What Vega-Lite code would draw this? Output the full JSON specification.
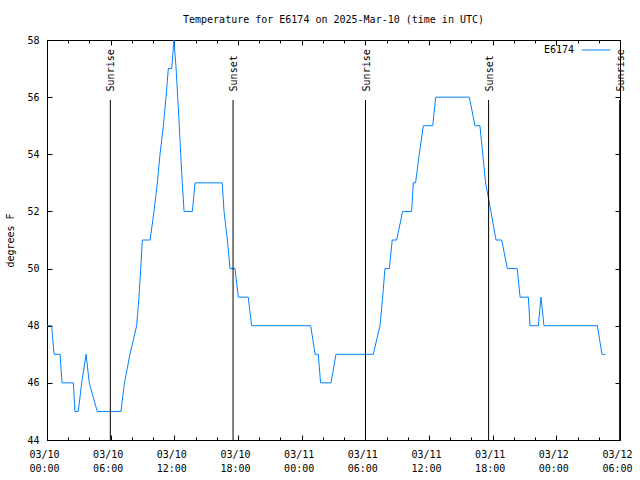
{
  "$schema": "https://vega.github.io/schema/vega-lite/v6.json",
  "width": 573,
  "height": 400,
  "autosize": {"type": "none"},
  "padding": {"left": 47, "top": 40, "right": 20, "bottom": 40},
  "background": "white",
  "title": {"text": "Temperature for E6174 on 2025-Mar-10 (time in UTC)", "anchor": "middle", "font": "DejaVu Sans Mono", "fontSize": 10, "fontWeight": "normal", "color": "black", "offset": 10},
  "config": {
    "font": "DejaVu Sans Mono",
    "view": {"stroke": "black", "strokeWidth": 1},
    "axis": {"domain": false, "grid": false, "tickColor": "black", "tickWidth": 1, "labelColor": "black", "labelFont": "DejaVu Sans Mono", "labelFontSize": 10, "titleFont": "DejaVu Sans Mono", "titleFontSize": 10, "titleFontWeight": "normal", "titleColor": "black"}
  },
  "datasets": {
    "temp": [
      {"time": "2025-03-10T00:00:00Z", "temp": 48},
      {"time": "2025-03-10T00:26:00Z", "temp": 48},
      {"time": "2025-03-10T00:40:00Z", "temp": 47},
      {"time": "2025-03-10T01:14:00Z", "temp": 47},
      {"time": "2025-03-10T01:25:00Z", "temp": 46},
      {"time": "2025-03-10T02:29:00Z", "temp": 46},
      {"time": "2025-03-10T02:38:00Z", "temp": 45},
      {"time": "2025-03-10T02:57:00Z", "temp": 45},
      {"time": "2025-03-10T03:16:00Z", "temp": 46},
      {"time": "2025-03-10T03:41:00Z", "temp": 47},
      {"time": "2025-03-10T03:59:00Z", "temp": 46},
      {"time": "2025-03-10T04:44:00Z", "temp": 45},
      {"time": "2025-03-10T06:58:00Z", "temp": 45},
      {"time": "2025-03-10T07:18:00Z", "temp": 46},
      {"time": "2025-03-10T07:49:00Z", "temp": 47},
      {"time": "2025-03-10T08:27:00Z", "temp": 48},
      {"time": "2025-03-10T08:40:00Z", "temp": 49},
      {"time": "2025-03-10T08:50:00Z", "temp": 50},
      {"time": "2025-03-10T08:59:00Z", "temp": 51},
      {"time": "2025-03-10T09:43:00Z", "temp": 51},
      {"time": "2025-03-10T10:05:00Z", "temp": 52},
      {"time": "2025-03-10T10:24:00Z", "temp": 53},
      {"time": "2025-03-10T10:39:00Z", "temp": 54},
      {"time": "2025-03-10T10:58:00Z", "temp": 55},
      {"time": "2025-03-10T11:13:00Z", "temp": 56},
      {"time": "2025-03-10T11:26:00Z", "temp": 57},
      {"time": "2025-03-10T11:45:00Z", "temp": 57},
      {"time": "2025-03-10T11:58:00Z", "temp": 58},
      {"time": "2025-03-10T12:10:00Z", "temp": 57},
      {"time": "2025-03-10T12:19:00Z", "temp": 56},
      {"time": "2025-03-10T12:28:00Z", "temp": 55},
      {"time": "2025-03-10T12:36:00Z", "temp": 54},
      {"time": "2025-03-10T12:45:00Z", "temp": 53},
      {"time": "2025-03-10T12:55:00Z", "temp": 52},
      {"time": "2025-03-10T13:42:00Z", "temp": 52},
      {"time": "2025-03-10T13:57:00Z", "temp": 53},
      {"time": "2025-03-10T16:31:00Z", "temp": 53},
      {"time": "2025-03-10T16:41:00Z", "temp": 52},
      {"time": "2025-03-10T17:00:00Z", "temp": 51},
      {"time": "2025-03-10T17:15:00Z", "temp": 50},
      {"time": "2025-03-10T17:43:00Z", "temp": 50},
      {"time": "2025-03-10T18:02:00Z", "temp": 49},
      {"time": "2025-03-10T18:58:00Z", "temp": 49},
      {"time": "2025-03-10T19:17:00Z", "temp": 48},
      {"time": "2025-03-11T00:51:00Z", "temp": 48},
      {"time": "2025-03-11T01:16:00Z", "temp": 47},
      {"time": "2025-03-11T01:34:00Z", "temp": 47},
      {"time": "2025-03-11T01:47:00Z", "temp": 46},
      {"time": "2025-03-11T02:46:00Z", "temp": 46},
      {"time": "2025-03-11T03:14:00Z", "temp": 47},
      {"time": "2025-03-11T06:45:00Z", "temp": 47},
      {"time": "2025-03-11T07:23:00Z", "temp": 48},
      {"time": "2025-03-11T07:38:00Z", "temp": 49},
      {"time": "2025-03-11T07:51:00Z", "temp": 50},
      {"time": "2025-03-11T08:16:00Z", "temp": 50},
      {"time": "2025-03-11T08:32:00Z", "temp": 51},
      {"time": "2025-03-11T08:57:00Z", "temp": 51},
      {"time": "2025-03-11T09:31:00Z", "temp": 52},
      {"time": "2025-03-11T10:22:00Z", "temp": 52},
      {"time": "2025-03-11T10:31:00Z", "temp": 53},
      {"time": "2025-03-11T10:44:00Z", "temp": 53},
      {"time": "2025-03-11T11:05:00Z", "temp": 54},
      {"time": "2025-03-11T11:28:00Z", "temp": 55},
      {"time": "2025-03-11T12:21:00Z", "temp": 55},
      {"time": "2025-03-11T12:38:00Z", "temp": 56},
      {"time": "2025-03-11T15:48:00Z", "temp": 56},
      {"time": "2025-03-11T16:20:00Z", "temp": 55},
      {"time": "2025-03-11T16:48:00Z", "temp": 55},
      {"time": "2025-03-11T17:04:00Z", "temp": 54},
      {"time": "2025-03-11T17:20:00Z", "temp": 53},
      {"time": "2025-03-11T17:50:00Z", "temp": 52},
      {"time": "2025-03-11T18:19:00Z", "temp": 51},
      {"time": "2025-03-11T18:51:00Z", "temp": 51},
      {"time": "2025-03-11T19:23:00Z", "temp": 50},
      {"time": "2025-03-11T20:19:00Z", "temp": 50},
      {"time": "2025-03-11T20:35:00Z", "temp": 49},
      {"time": "2025-03-11T21:22:00Z", "temp": 49},
      {"time": "2025-03-11T21:31:00Z", "temp": 48},
      {"time": "2025-03-11T22:18:00Z", "temp": 48},
      {"time": "2025-03-11T22:33:00Z", "temp": 49},
      {"time": "2025-03-11T22:50:00Z", "temp": 48},
      {"time": "2025-03-12T03:52:00Z", "temp": 48},
      {"time": "2025-03-12T04:18:00Z", "temp": 47},
      {"time": "2025-03-12T04:37:00Z", "temp": 47}
    ],
    "sun": [
      {"time": "2025-03-10T05:58:00Z", "event": "Sunrise"},
      {"time": "2025-03-10T17:32:00Z", "event": "Sunset"},
      {"time": "2025-03-11T06:01:00Z", "event": "Sunrise"},
      {"time": "2025-03-11T17:37:00Z", "event": "Sunset"},
      {"time": "2025-03-12T05:58:00Z", "event": "Sunrise"}
    ]
  },
  "layer": [
    {
      "data": {"name": "temp"},
      "mark": {"type": "line", "strokeWidth": 1},
      "encoding": {
        "x": {
          "field": "time", "type": "temporal",
          "scale": {"type": "utc", "domain": [1741564800000, 1741759200000], "nice": false},
          "axis": {
            "orient": "bottom", "title": null,
            "values": [1741564800000, 1741586400000, 1741608000000, 1741629600000, 1741651200000, 1741672800000, 1741694400000, 1741716000000, 1741737600000, 1741759200000],
            "tickSize": -5,
            "labelExpr": "[utcFormat(datum.value, '%m/%d'), utcFormat(datum.value, '%H:%M')]",
            "labelPadding": 14, "labelOffset": -3, "labelLineHeight": 14, "labelFlush": false, "labelOverlap": false
          }
        },
        "y": {
          "field": "temp", "type": "quantitative",
          "scale": {"domain": [44, 58], "nice": false, "zero": false},
          "axis": {"orient": "left", "title": "degrees F", "values": [44, 46, 48, 50, 52, 54, 56, 58], "tickSize": -5, "labelPadding": 13, "titlePadding": 11}
        },
        "color": {
          "datum": "E6174",
          "scale": {"range": ["#0080ff"]},
          "legend": {"orient": "none", "legendX": 534, "legendY": -5, "title": null, "padding": 0, "symbolType": "stroke", "symbolSize": 841, "symbolStrokeWidth": 1, "labelAlign": "right", "labelOffset": -37, "labelFont": "DejaVu Sans Mono", "labelFontSize": 10, "labelColor": "black"}
        }
      }
    },
    {
      "data": {"name": "sun"},
      "mark": {"type": "rule", "color": "black", "strokeWidth": 1},
      "encoding": {
        "x": {
          "field": "time", "type": "temporal",
          "axis": {"orient": "top", "title": null, "labels": false,
            "values": [1741564800000, 1741586400000, 1741608000000, 1741629600000, 1741651200000, 1741672800000, 1741694400000, 1741716000000, 1741737600000, 1741759200000],
            "tickSize": -5}
        },
        "y": {
          "datum": 44, "type": "quantitative",
          "axis": {"orient": "right", "title": null, "labels": false, "values": [44, 46, 48, 50, 52, 54, 56, 58], "tickSize": -5}
        },
        "y2": {"datum": 55.9}
      }
    },
    {
      "data": {"name": "sun"},
      "mark": {"type": "text", "angle": 270, "align": "left", "baseline": "middle", "font": "DejaVu Sans Mono", "fontSize": 10, "color": "black", "dy": 1},
      "encoding": {
        "x": {"field": "time", "type": "temporal", "axis": {"orient": "bottom", "title": null, "labels": false, "tickSize": -3,
          "values": [1741564800000, 1741572000000, 1741579200000, 1741586400000, 1741593600000, 1741600800000, 1741608000000, 1741615200000, 1741622400000, 1741629600000, 1741636800000, 1741644000000, 1741651200000, 1741658400000, 1741665600000, 1741672800000, 1741680000000, 1741687200000, 1741694400000, 1741701600000, 1741708800000, 1741716000000, 1741723200000, 1741730400000, 1741737600000, 1741744800000, 1741752000000, 1741759200000]}},
        "y": {"datum": 56.2, "type": "quantitative", "axis": null},
        "text": {"field": "event"}
      }
    },
    {
      "data": {"name": "sun"},
      "mark": {"type": "rule", "strokeOpacity": 0},
      "encoding": {
        "x": {"field": "time", "type": "temporal", "axis": {"orient": "top", "title": null, "labels": false, "tickSize": -3,
          "values": [1741564800000, 1741572000000, 1741579200000, 1741586400000, 1741593600000, 1741600800000, 1741608000000, 1741615200000, 1741622400000, 1741629600000, 1741636800000, 1741644000000, 1741651200000, 1741658400000, 1741665600000, 1741672800000, 1741680000000, 1741687200000, 1741694400000, 1741701600000, 1741708800000, 1741716000000, 1741723200000, 1741730400000, 1741737600000, 1741744800000, 1741752000000, 1741759200000]}},
        "y": {"datum": 44, "type": "quantitative", "axis": null},
        "y2": {"datum": 55.9}
      }
    }
  ],
  "resolve": {"axis": {"x": "independent", "y": "independent"}}
}
